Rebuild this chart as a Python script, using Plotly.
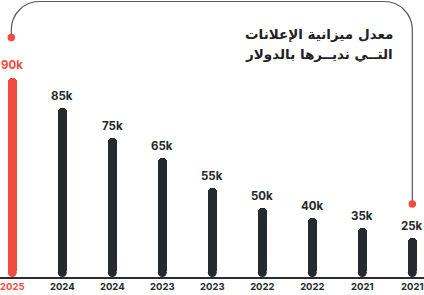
import plotly.graph_objects as go

# ---- data ----
years = ["2025", "2024", "2024", "2023", "2023", "2022", "2022", "2021", "2021"]
budgets_k = [90, 85, 75, 65, 55, 50, 40, 35, 25]
# drawn bar heights (relative scale as shown in the picture)
bar_heights = [199.5, 169, 139, 119, 89, 69, 59, 49, 39]
title_lines = ["معدل ميزانية الإعلانات", "التــي نديــرها بالدولار"]

RED = "#f34b40"
DARK = "#26292d"
LINE = "#55585c"

W, H = 424, 295
B = 18
PLOT_H = H - B
PX_PER_X = 50.0
X0 = -12.3 / PX_PER_X
BAR_W_PX = 9.0
r = BAR_W_PX / 2

n = len(years)
xs = list(range(n))
colors = [RED] + [DARK] * (n - 1)

fig = go.Figure()

# bars (rounded top via cornerradius)
fig.add_trace(go.Bar(
    x=xs,
    y=[h - r for h in bar_heights],
    base=[r] * n,
    width=BAR_W_PX / PX_PER_X,
    marker=dict(color=colors, line=dict(width=0), cornerradius="50%"),
    hoverinfo="skip",
))
# rounded bottoms
fig.add_trace(go.Scatter(
    x=xs, y=[r] * n, mode="markers",
    marker=dict(size=BAR_W_PX, color=colors, line=dict(width=0)),
    hoverinfo="skip", cliponaxis=False,
))

# value labels
for i, (v, h) in enumerate(zip(budgets_k, bar_heights)):
    fig.add_annotation(
        x=i, y=h + 12.5, xref="x", yref="y",
        text=f"<b>{v}k</b>", showarrow=False, yanchor="middle",
        font=dict(family="Inter", size=11.5, color=RED if i == 0 else DARK),
    )

# connector path from first to last bar
top_y = PLOT_H - 1.5
left_y = bar_heights[0] + 40
right_y = bar_heights[-1] + 34
rx = 28 / PX_PER_X
ry = 28
k = 0.552
xl, xr = -0.02, n - 1
path = (
    f"M {xl},{left_y} L {xl},{top_y - ry} "
    f"C {xl},{top_y - ry + ry * k} {xl + rx - rx * k},{top_y} {xl + rx},{top_y} "
    f"L {xr - rx},{top_y} "
    f"C {xr - rx + rx * k},{top_y} {xr},{top_y - ry + ry * k} {xr},{top_y - ry} "
    f"L {xr},{right_y}"
)
fig.add_shape(type="path", path=path, xref="x", yref="y",
              line=dict(color=LINE, width=1.2), layer="below")

fig.add_trace(go.Scatter(
    x=[xl, xr], y=[left_y, right_y], mode="markers",
    marker=dict(size=7.5, color=RED, line=dict(width=0)),
    hoverinfo="skip", cliponaxis=False,
))

# title
for j, t in enumerate(title_lines):
    py = 34 + 20 * j
    fig.add_annotation(
        x=395 / W, y=(PLOT_H - py) / PLOT_H, xref="paper", yref="paper",
        text=f"<b>{t}</b>", showarrow=False, xanchor="right", yanchor="middle",
        font=dict(family="DejaVu Sans", size=13.5, color="#1f2124"),
    )

ticktext = [f'<span style="color:{RED}"><b>{years[0]}</b></span>'] + [f"<b>{y}</b>" for y in years[1:]]

fig.update_layout(
    width=W, height=H,
    margin=dict(l=0, r=0, t=0, b=B, pad=0),
    paper_bgcolor="white", plot_bgcolor="white",
    showlegend=False,
    bargap=0,
    xaxis=dict(
        range=[X0, X0 + W / PX_PER_X],
        tickvals=xs, ticktext=ticktext,
        showgrid=False, zeroline=False,
        showline=True, linecolor="#2a2c30", linewidth=1.5,
        ticks="", tickfont=dict(family="Inter", size=9.5, color=DARK),
        fixedrange=True,
    ),
    yaxis=dict(range=[0, PLOT_H], visible=False, fixedrange=True),
)

fig.write_html("out.html", config={"displayModeBar": False})
